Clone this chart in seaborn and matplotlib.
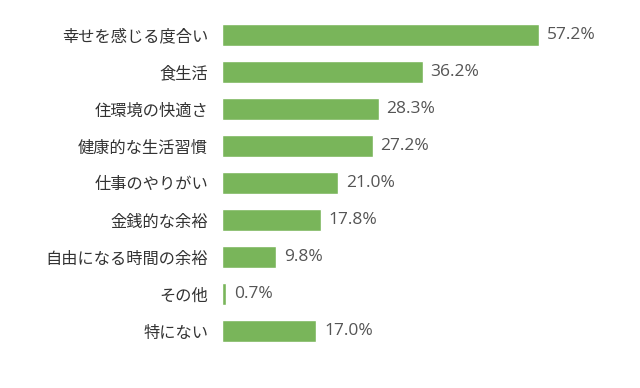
import matplotlib
matplotlib.use("Agg")
import matplotlib.pyplot as plt
import seaborn as sns
import pandas as pd

categories = ["幸せを感じる度合い", "食生活", "住環境の快適さ", "健康的な生活習慣", "仕事のやりがい",
              "金銭的な余裕", "自由になる時間の余裕", "その他", "特にない"]
values = [57.2, 36.2, 28.3, 27.2, 21.0, 17.8, 9.8, 0.7, 17.0]

sns.set_theme(style="white")
plt.rcParams['font.family'] = ['Noto Sans CJK JP', 'DejaVu Sans']

df = pd.DataFrame({"cat": categories, "val": values})

fig = plt.figure(figsize=(6.4, 3.88), dpi=100)
ax = fig.add_axes([222/640, 1-349.5/388, (620-222)/640, (349.5-16.5)/388])
sns.barplot(data=df, x="val", y="cat", color="#79b55a", saturation=1, width=0.6, ax=ax)
ax.set_xlim(0, (620-222)/(317/57.2))
ax.set_ylim(8.5, -0.5)
for i, v in enumerate(values):
    ax.text(v + 1.4, i, f"{v:.1f}%", va="center", ha="left", fontsize=12.5,
            color="#555555", family=["Open Sans", "DejaVu Sans"])
ax.set_xlabel("")
ax.set_ylabel("")
ax.set_xticks([])
ax.tick_params(axis="y", length=0, pad=10, labelsize=11.7, labelcolor="#333333")
for s in ax.spines.values():
    s.set_visible(False)
fig.savefig("out.png", dpi=100)
